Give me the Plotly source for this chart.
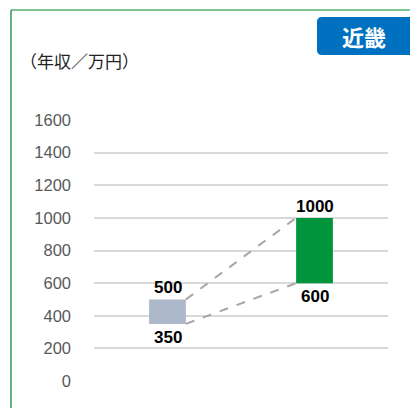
import plotly.graph_objects as go

categories = [0, 1]
low_values = [350, 600]
high_values = [500, 1000]
bar_colors = ["#ADB9CA", "#00943C"]
tick_vals = [0, 200, 400, 600, 800, 1000, 1200, 1400, 1600]
axis_title = "（年収／万円）"
region_label = "近畿"

W, H = 410, 408
L, R, T, B = 94, 22, 120, 27
pw, ph = W - L - R, H - T - B

def px(x):
    return (x - L) / pw

def py(y):
    return (H - B - y) / ph

NUM_FONT = "Liberation Sans, Arial"
bw = 0.25
fig = go.Figure()
fig.add_trace(go.Bar(
    x=categories,
    y=[h - l for h, l in zip(high_values, low_values)],
    base=low_values,
    width=bw,
    marker=dict(color=bar_colors, line=dict(width=0)),
    hoverinfo="skip",
))
# connectors
for vals in (high_values, low_values):
    fig.add_trace(go.Scatter(
        x=[categories[0] + bw / 2, categories[1] - bw / 2],
        y=vals,
        mode="lines",
        line=dict(color="#A6A6A6", width=2, dash="dash"),
        hoverinfo="skip",
    ))
# value labels
for c, lo, hi in zip(categories, low_values, high_values):
    fig.add_annotation(x=c, y=hi, text=f"<b>{hi}</b>", showarrow=False,
                       yanchor="bottom", yshift=0,
                       font=dict(size=17, color="#000000", family=NUM_FONT))
    fig.add_annotation(x=c, y=lo, text=f"<b>{lo}</b>", showarrow=False,
                       yanchor="top", yshift=-2,
                       font=dict(size=17, color="#000000", family=NUM_FONT))

# axis title
fig.add_annotation(xref="paper", yref="paper", x=px(18), y=py(60), text=axis_title,
                   showarrow=False, xanchor="left", yanchor="middle",
                   font=dict(size=17, color="#222222", family="Noto Sans CJK JP"))

# region label box
x0, x1, y0, y1, r = 317, 414, 17, 55, 5
path = (f"M {px(x0)},{py(y0 + r)} "
        f"L {px(x0)},{py(y1 - r)} Q {px(x0)},{py(y1)} {px(x0 + r)},{py(y1)} "
        f"L {px(x1)},{py(y1)} L {px(x1)},{py(y0)} "
        f"L {px(x0 + r)},{py(y0)} Q {px(x0)},{py(y0)} {px(x0)},{py(y0 + r)} Z")
fig.add_shape(type="path", xref="paper", yref="paper", path=path,
              fillcolor="#0070C0", line=dict(width=0), layer="above")
fig.add_annotation(xref="paper", yref="paper", x=px(364), y=py(36), text=f"<b>{region_label}</b>",
                   showarrow=False, xanchor="center", yanchor="middle",
                   font=dict(size=22, color="#FFFFFF", family="Noto Sans CJK JP"))

# border lines
fig.add_shape(type="line", xref="paper", yref="paper", x0=px(11), x1=px(412), y0=py(10), y1=py(10),
              line=dict(color="#7CC592", width=2))
fig.add_shape(type="line", xref="paper", yref="paper", x0=px(11), x1=px(11), y0=py(10), y1=py(410),
              line=dict(color="#2E9B55", width=1.5))

fig.update_layout(
    width=W, height=H,
    margin=dict(l=L, r=R, t=T, b=B),
    paper_bgcolor="white", plot_bgcolor="white",
    showlegend=False,
    xaxis=dict(range=[-0.5, 1.5], showticklabels=False, showgrid=False, zeroline=False,
               showline=False, fixedrange=True),
    yaxis=dict(range=[0, 1600], tickvals=tick_vals, showgrid=True, gridcolor="#D9D9D9",
               gridwidth=1.5, zeroline=False, showline=False, ticklabelstandoff=22,
               tickfont=dict(size=16.5, color="#595959", family=NUM_FONT)),
)
fig.write_html("out.html", config={"displayModeBar": False},
               post_script="document.body.style.margin='0';document.body.style.overflow='hidden';")
